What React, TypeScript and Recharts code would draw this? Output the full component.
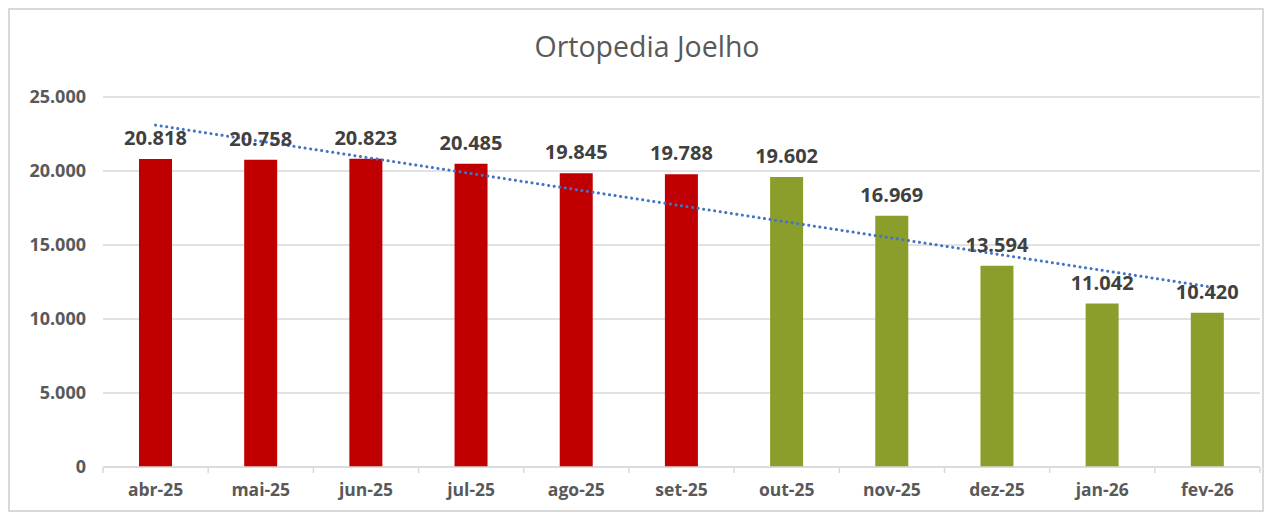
import { BarChart, Bar, XAxis, YAxis, CartesianGrid, ReferenceLine, LabelList, Cell } from "recharts";

const months = ["abr-25", "mai-25", "jun-25", "jul-25", "ago-25", "set-25", "out-25", "nov-25", "dez-25", "jan-26", "fev-26"];
const volumes = [20818, 20758, 20823, 20485, 19845, 19788, 19602, 16969, 13594, 11042, 10420];
// first six months red, rest green
const periods = ["antes", "antes", "antes", "antes", "antes", "antes", "depois", "depois", "depois", "depois", "depois"];
const yTicks = [0, 5000, 10000, 15000, 20000, 25000];
// linear trend line at first / last month
const trendStart = 23100;
const trendEnd = 12200;

const data = months.map((m, i) => ({ mes: m, valor: volumes[i], periodo: periods[i] }));

const fmt = (v: number) => v.toLocaleString("de-DE");
const FONT = "'Open Sans', sans-serif";
const BAND = (1250 - 93) / months.length;

function XTick(props: any) {
  const { x, y, payload, index } = props;
  const half = BAND / 2;
  return (
    <g>
      <line x1={x - half} x2={x - half} y1={y - 8} y2={y - 2} stroke="#d9d9d9" strokeWidth={1.5} />
      {index === months.length - 1 && (
        <line x1={x + half} x2={x + half} y1={y - 8} y2={y - 2} stroke="#d9d9d9" strokeWidth={1.5} />
      )}
      <text x={x} y={y + 21} textAnchor="middle" fill="#595959" fontFamily={FONT} fontWeight={700} fontSize={17.5}>
        {payload.value}
      </text>
    </g>
  );
}

export default function App() {
  return (
    <div style={{ position: "relative", width: 1252, height: 500, border: "2px solid #d9d9d9", background: "#fff" }}>
      <div
        style={{
          position: "absolute",
          top: 17,
          left: 11,
          width: "100%",
          textAlign: "center",
          fontFamily: FONT,
          fontSize: 28.5,
          color: "#595959",
        }}
      >
        Ortopedia Joelho
      </div>
      <BarChart width={1252} height={500} data={data} margin={{ top: 87, right: 2, left: 0, bottom: 0 }} barSize={33}>
        <CartesianGrid vertical={false} stroke="#d9d9d9" strokeWidth={1.5} />
        <XAxis
          dataKey="mes"
          height={43}
          axisLine={{ stroke: "#d9d9d9", strokeWidth: 1.5 }}
          tickLine={false}
          tick={<XTick />}
          interval={0}
        />
        <YAxis
          width={93}
          domain={[0, 25000]}
          ticks={yTicks}
          tickFormatter={fmt}
          axisLine={false}
          tickLine={false}
          tickMargin={11}
          tick={{ fill: "#595959", fontFamily: FONT, fontWeight: 700, fontSize: 18 }}
        />
        <Bar dataKey="valor" isAnimationActive={false}>
          {data.map((d) => (
            <Cell key={d.mes} fill={d.periodo === "antes" ? "#C00000" : "#8B9E2B"} />
          ))}
          <LabelList
            dataKey="valor"
            position="top"
            offset={14}
            formatter={(v: any) => fmt(Number(v))}
            style={{ fill: "#404040", fontFamily: FONT, fontWeight: 700, fontSize: 20 }}
          />
        </Bar>
        <ReferenceLine
          segment={[
            { x: months[0], y: trendStart },
            { x: months[months.length - 1], y: trendEnd },
          ]}
          stroke="#4472C4"
          strokeWidth={3}
          strokeDasharray="0.1 5.5"
          strokeLinecap="round"
        />
      </BarChart>
    </div>
  );
}
